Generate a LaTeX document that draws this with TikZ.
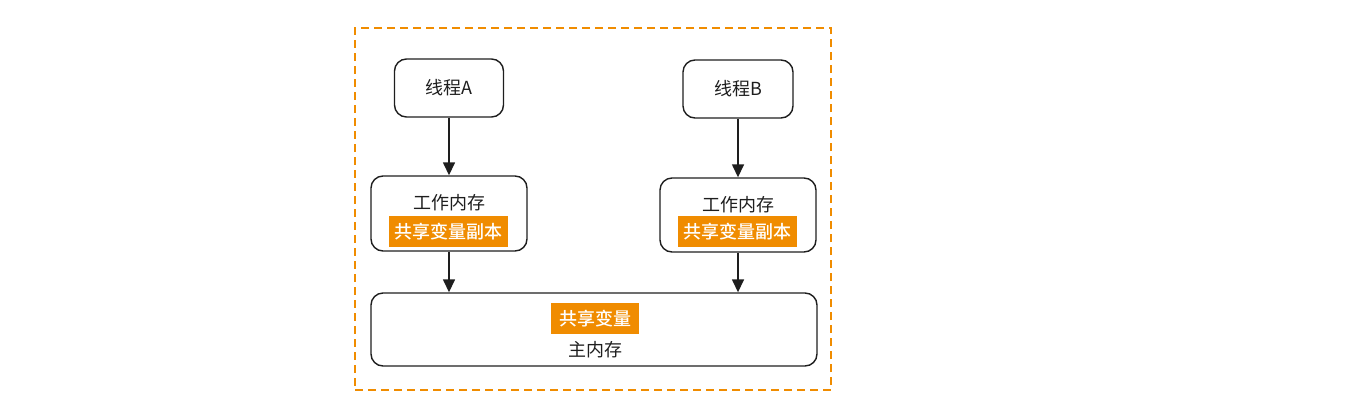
\documentclass[tikz,border=0pt]{standalone}
\usepackage{fontspec}
\setmainfont{Noto Sans CJK SC}
\newfontfamily\tagfont{Noto Sans CJK SC Medium}
\usetikzlibrary{arrows.meta}
\definecolor{orng}{RGB}{240,140,0}
\definecolor{ink}{RGB}{30,30,30}
\begin{document}
\begin{tikzpicture}[x=1pt,y=-1pt,
  box/.style={draw=ink,line width=1.4pt,rounded corners=12pt,inner sep=0pt},
  tag/.style={fill=orng,text=white,font=\tagfont\fontsize{18}{21}\selectfont,inner sep=0pt},
  lbl/.style={text=ink,font=\fontsize{18}{21}\selectfont,inner sep=0pt},
  arr/.style={draw=ink,line width=1.5pt,-{Triangle[length=13pt,width=12pt]}}]
\useasboundingbox (0,0) rectangle (1364,410);
\node[draw=orng,line width=1.6pt,dash pattern=on 8pt off 5pt,minimum width=476pt,minimum height=362pt,inner sep=0pt] (frame) at (593,209) {};
\node[box,minimum width=109pt,minimum height=58pt] (ta) at (449,88) {};
\node[lbl] at (ta.center) {线程A};
\node[box,minimum width=110pt,minimum height=58pt] (tb) at (738,89) {};
\node[lbl] at (tb.center) {线程B};
\node[box,minimum width=156pt,minimum height=75pt] (wa) at (449,213.5) {};
\node[lbl] at (449,203) {工作内存};
\node[tag,minimum width=119pt,minimum height=31pt] (ca) at (448.5,231.5) {共享变量副本};
\node[box,minimum width=156pt,minimum height=74pt] (wb) at (738,215) {};
\node[lbl] at (738,205) {工作内存};
\node[tag,minimum width=119pt,minimum height=31pt] (cb) at (737.5,231.5) {共享变量副本};
\node[box,minimum width=446pt,minimum height=73pt] (mm) at (594,329.5) {};
\node[tag,minimum width=88pt,minimum height=31pt] (cm) at (595,318.5) {共享变量};
\node[lbl] at (595,350) {主内存};
\draw[arr] (ta.south) -- (wa.north -| ta.south);
\draw[arr] (tb.south) -- (wb.north -| tb.south);
\draw[arr] (wa.south) -- (mm.north -| wa.south);
\draw[arr] (wb.south) -- (mm.north -| wb.south);
\end{tikzpicture}
\end{document}
